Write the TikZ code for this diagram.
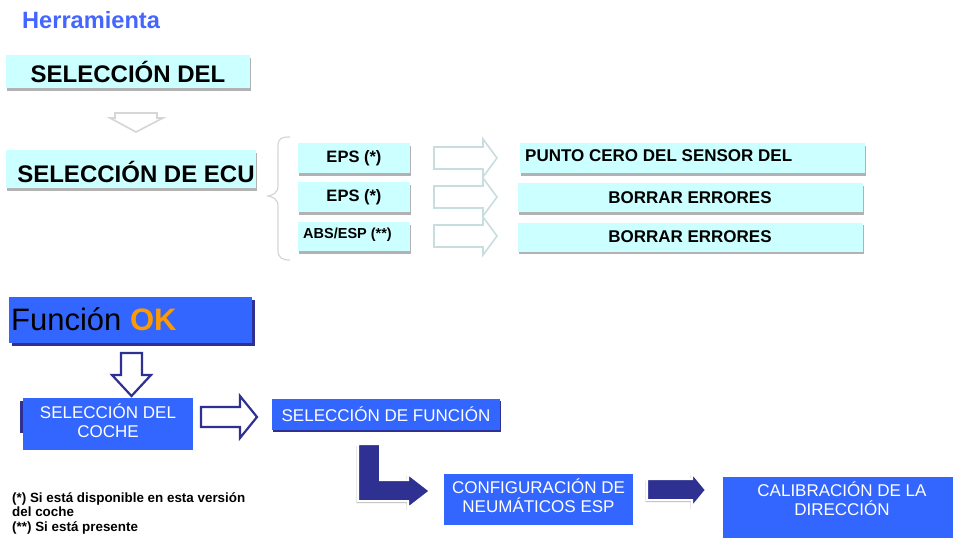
\documentclass[tikz,border=0pt]{standalone}
\usepackage{fontspec}
\setmainfont{Liberation Sans}
\usetikzlibrary{shadows}
\definecolor{cyanbox}{HTML}{CCFFFF}
\definecolor{bluebox}{HTML}{3366FF}
\definecolor{navy}{HTML}{2E3192}
\definecolor{okorange}{HTML}{FF9900}
\definecolor{titleblue}{HTML}{4466FF}
\definecolor{lightarrow}{HTML}{C8DEDE}
\definecolor{lightgrayarrow}{HTML}{D6D6D6}
\begin{document}
\begin{tikzpicture}[x=1pt,y=-1pt,
  lbox/.style={fill=cyanbox, inner sep=0pt,
    general shadow={fill=black!30, shadow xshift=1pt, shadow yshift=-2.5pt}},
  bbox/.style={fill=bluebox, inner sep=0pt, text=white, align=center},
  navyshadow/.style={general shadow={fill=navy, shadow xshift=3pt, shadow yshift=-3pt}},
  hollowlight/.style={draw=lightarrow, line width=1.6pt, fill=white, line join=miter},
  hollownavy/.style={draw=navy, line width=2.2pt, fill=white, line join=miter},
  solidnavy/.style={fill=navy, draw=white, line width=2pt, line join=miter,
    general shadow={fill=black!25, shadow xshift=-1.5pt, shadow yshift=-2pt}},
  smalltxt/.style={font=\bfseries\fontsize{16.5}{18}\selectfont},
  resulttxt/.style={font=\bfseries\fontsize{17}{19}\selectfont},
  whitetxt/.style={font=\fontsize{17}{20}\selectfont}
]
\useasboundingbox (0,0) rectangle (953,538);
\fill[white] (0,0) rectangle (953,538);

% title
\node[anchor=west, inner sep=0pt, text=titleblue, font=\bfseries\fontsize{23.6}{25}\selectfont] (title) at (22,20) {Herramienta};

% top light section
\node[lbox, minimum width=244pt, minimum height=33pt, font=\bfseries\fontsize{24}{26}\selectfont] (selcar) at (128,71.5) {SELECCIÓN DEL};
\draw[draw=lightgrayarrow, line width=1.6pt, fill=white, line join=miter]
  (115,113) -- (157,113) -- (157,118) -- (163,118) -- (136,132) -- (110,118) -- (115,118) -- cycle;
\node[lbox, minimum width=250pt, minimum height=38pt] (selecu) at (131,169) {};
\node[inner sep=0pt, font=\bfseries\fontsize{24}{26}\selectfont] (selecutxt) at (136,172) {SELECCIÓN DE ECU};

% brace
\draw[lightgrayarrow, line width=1.2pt] (290,137) .. controls (282,137) and (278,138) .. (278,146)
  -- (278,186) .. controls (278,193) and (273,195) .. (268,196)
  .. controls (273,197) and (278,199) .. (278,206)
  -- (278,250) .. controls (278,258) and (282,260) .. (290,260);

% ECU rows
\node[lbox, minimum width=112pt, minimum height=30pt, smalltxt] (eps1) at (354,158) {EPS (*)};
\node[lbox, minimum width=112pt, minimum height=30pt, smalltxt] (eps2) at (354,197) {EPS (*)};
\node[lbox, minimum width=112pt, minimum height=29pt] (abs) at (354,236.5) {};
\node[anchor=west, inner sep=0pt, font=\bfseries\fontsize{14.5}{16}\selectfont] (abstxt) at (303,235) {ABS/ESP (**)};

\foreach \c in {158,197,236}{
  \draw[hollowlight] (434,\c-11) -- (483,\c-11) -- (483,\c-19) -- (497,\c) -- (483,\c+19) -- (483,\c+11) -- (434,\c+11) -- cycle;
}

\node[lbox, minimum width=345pt, minimum height=30pt] (r1) at (692,158) {};
\node[anchor=west, inner sep=0pt, resulttxt] (r1txt) at (525,156) {PUNTO CERO DEL SENSOR DEL};
\node[lbox, minimum width=345pt, minimum height=29pt, resulttxt] (r2) at (690,197.5) {BORRAR ERRORES};
\node[lbox, minimum width=345pt, minimum height=29pt, resulttxt] (r3) at (690,237) {BORRAR ERRORES};

% bottom section
\node[bbox, navyshadow, minimum width=243pt, minimum height=46pt] (func) at (130.5,319.5) {};
\node[anchor=west, inner sep=0pt, font=\fontsize{31}{33}\selectfont] (functxt) at (11,319) {Función \textcolor{okorange}{\bfseries OK}};

\draw[hollownavy] (121,353) -- (142,353) -- (142,375) -- (151,375) -- (131.5,396) -- (112,375) -- (121,375) -- cycle;

\fill[navy] (20,401) rectangle (190,433);
\node[bbox, minimum width=170pt, minimum height=52pt] (selcoche) at (108,424) {};
\node[whitetxt, text=white, align=center, inner sep=0pt] (selcochetxt) at (108,421) {SELECCIÓN DEL\\[-1pt]COCHE};

\draw[hollownavy] (201,407) -- (240,407) -- (240,396) -- (257,417) -- (240,438) -- (240,427) -- (201,427) -- cycle;

\node[bbox, general shadow={fill=navy, shadow xshift=1pt, shadow yshift=-2pt}, minimum width=228pt, minimum height=31pt, whitetxt] (selfun) at (386,414) {SELECCIÓN DE FUNCIÓN};

\draw[solidnavy] (358,444) -- (380,444) -- (380,480) -- (408,480) -- (408,474) -- (430,491) -- (408,508) -- (408,501) -- (358,501) -- cycle;

\node[bbox, minimum width=189pt, minimum height=51pt] (config) at (538.5,499.5) {};
\node[whitetxt, text=white, align=center, inner sep=0pt] (configtxt) at (538.5,496) {CONFIGURACIÓN DE\\[-1pt]NEUMÁTICOS ESP};

\draw[solidnavy] (647,479) -- (692,479) -- (692,473) -- (706,490) -- (692,507) -- (692,500) -- (647,500) -- cycle;

\node[bbox, minimum width=230pt, minimum height=61pt] (calib) at (838,507.5) {};
\node[whitetxt, text=white, align=center, inner sep=0pt] (calibtxt) at (842,499) {CALIBRACIÓN DE LA\\[-1pt]DIRECCIÓN};

% footnotes
\node[anchor=north west, inner sep=0pt, align=left, font=\bfseries\fontsize{13.4}{14.6}\selectfont] (notes) at (12,492) {(*) Si está disponible en esta versión\\del coche\\(**) Si está presente};
\end{tikzpicture}
\end{document}
